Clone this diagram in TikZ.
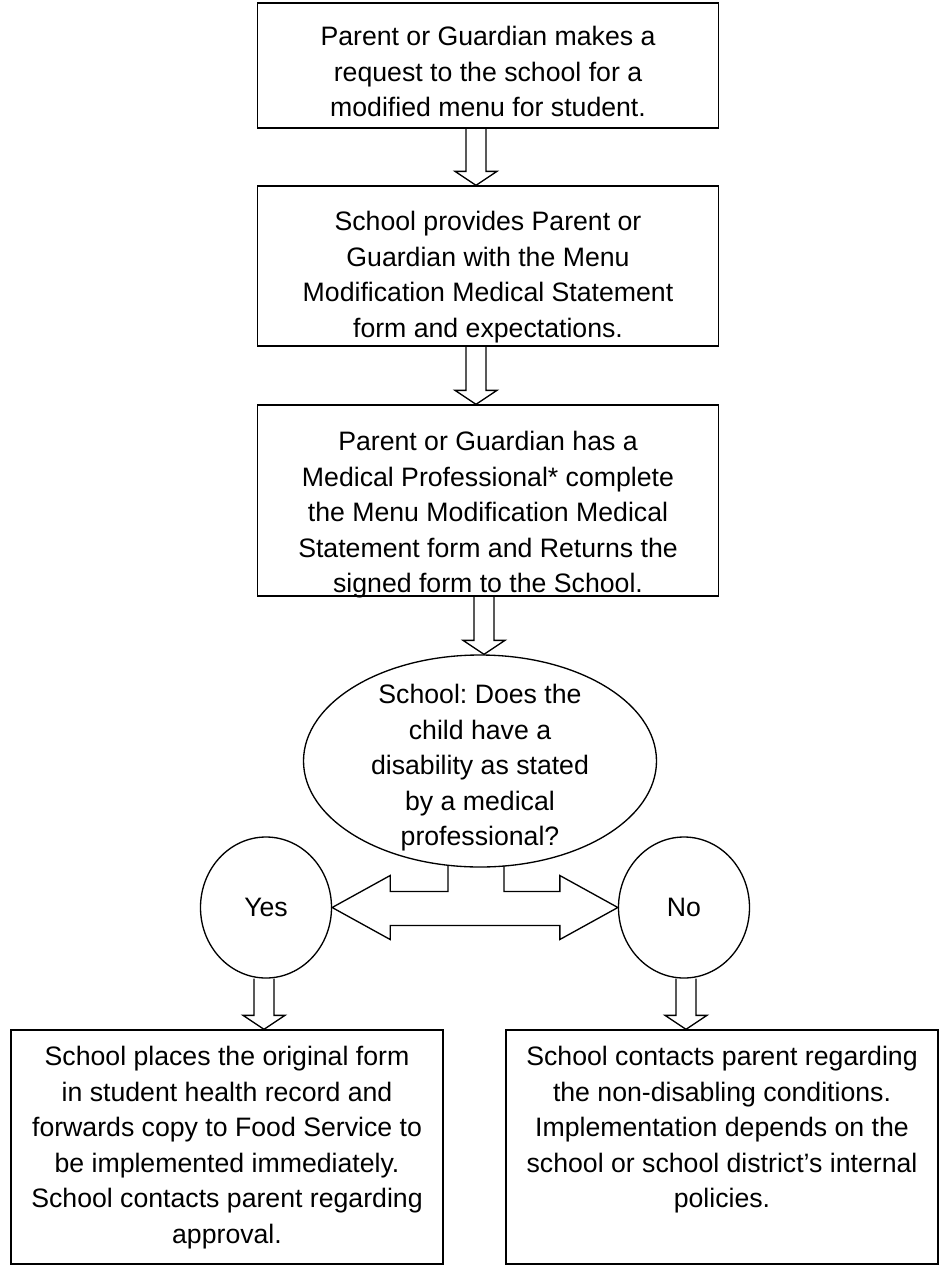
\documentclass[tikz,border=0pt]{standalone}
\usepackage{fontspec}
\setmainfont{Liberation Sans}
\usetikzlibrary{shapes.geometric,calc}
\frenchspacing

\tikzset{
  frame/.style={draw, line width=1pt, inner sep=0pt},
  txt/.style={anchor=north, align=center, inner sep=0pt,
    font=\fontsize{20}{26.6}\selectfont}
}

% hollow arrow pointing down, from one node to the next
\newcommand{\blockdown}[3][0]{%
  \draw[line width=1pt] let \p1=($(#2.south)+(#1,0)$), \p2=(#3.north) in
    (\x1-7.5pt,\y1) -- (\x1-7.5pt,\y2+10.5pt) -- (\x1-15.75pt,\y2+10.5pt)
    -- (\x1,\y2) -- (\x1+15.75pt,\y2+10.5pt) -- (\x1+7.5pt,\y2+10.5pt)
    -- (\x1+7.5pt,\y1);}

\begin{document}
\begin{tikzpicture}[x=0.75pt,y=-0.75pt]
    \useasboundingbox (0,0) rectangle (943,1268);

    % Steps one to three
    \node[frame, minimum width=461*0.75pt, minimum height=125*0.75pt] (b1) at (488,65.5) {};
    \node[txt] (t1) at ($(b1.north)+(0,24)$)
      {Parent or Guardian makes a\\ request to the school for a\\ modified menu for student.};

    \node[frame, minimum width=461*0.75pt, minimum height=160*0.75pt] (b2) at (488,266) {};
    \node[txt] (t2) at ($(b2.north)+(0,26)$)
      {School provides Parent or\\ Guardian with the Menu\\ Modification Medical Statement\\ form and expectations.};

    \node[frame, minimum width=461*0.75pt, minimum height=191*0.75pt] (b3) at (488,500.5) {};
    \node[txt] (t3) at ($(b3.north)+(0,27)$)
      {Parent or Guardian has a\\ Medical Professional* complete\\ the Menu Modification Medical\\ Statement form and Returns the\\ signed form to the School.};

    % The question
    \node[frame, ellipse, minimum width=353*0.75pt, minimum height=212*0.75pt] (dq) at (480,761) {};
    \node[txt, anchor=center] (tq) at ($(dq.center)+(0,7)$)
      {School: Does the\\ child have a\\ disability as stated\\ by a medical\\ professional?};

    % Answers
    \node[frame, ellipse, minimum width=131*0.75pt, minimum height=141*0.75pt,
      font=\fontsize{20}{26.6}\selectfont] (yes) at (266,907.5) {Yes};
    \node[frame, ellipse, minimum width=131*0.75pt, minimum height=141*0.75pt,
      font=\fontsize{20}{26.6}\selectfont] (no) at (684,907.5) {No};

    % Outcomes
    \node[frame, minimum width=432*0.75pt, minimum height=234*0.75pt] (bl) at (227,1147) {};
    \node[txt] (tl) at ($(bl.north)+(0,17)$)
      {School places the original form\\ in student health record and\\ forwards copy to Food Service to\\ be implemented immediately.\\ School contacts parent regarding\\ approval.};

    \node[frame, minimum width=432*0.75pt, minimum height=234*0.75pt] (br) at (722,1147) {};
    \node[txt] (tr) at ($(br.north)+(0,17)$)
      {School contacts parent regarding\\ the non-disabling conditions.\\ Implementation depends on the\\ school or school district’s internal\\ policies.};

    % Arrows
    \blockdown[-12]{b1}{b2}
    \blockdown[-12]{b2}{b3}
    \blockdown[-4]{b3}{dq}
    \blockdown[-2]{yes}{bl}
    \blockdown[2]{no}{br}

    % Split arrow to Yes and No
    \draw[line width=1pt] let \p1=($(dq.south)+(-4,0)$), \p2=(yes.east), \p3=(no.west) in
      (\x1-21pt,\y1+1.5pt) -- (\x1-21pt,\y2+12pt) -- (\x2+43.5pt,\y2+12pt)
      -- (\x2+43.5pt,\y2+24pt) -- (\x2,\y2) -- (\x2+43.5pt,\y2-24pt)
      -- (\x2+43.5pt,\y2-13.5pt) -- (\x3-43.5pt,\y3-13.5pt)
      -- (\x3-43.5pt,\y3-24pt) -- (\x3,\y3) -- (\x3-43.5pt,\y3+24pt)
      -- (\x3-43.5pt,\y3+12pt) -- (\x1+21pt,\y3+12pt) -- (\x1+21pt,\y1+1.5pt);
\end{tikzpicture}
\end{document}
